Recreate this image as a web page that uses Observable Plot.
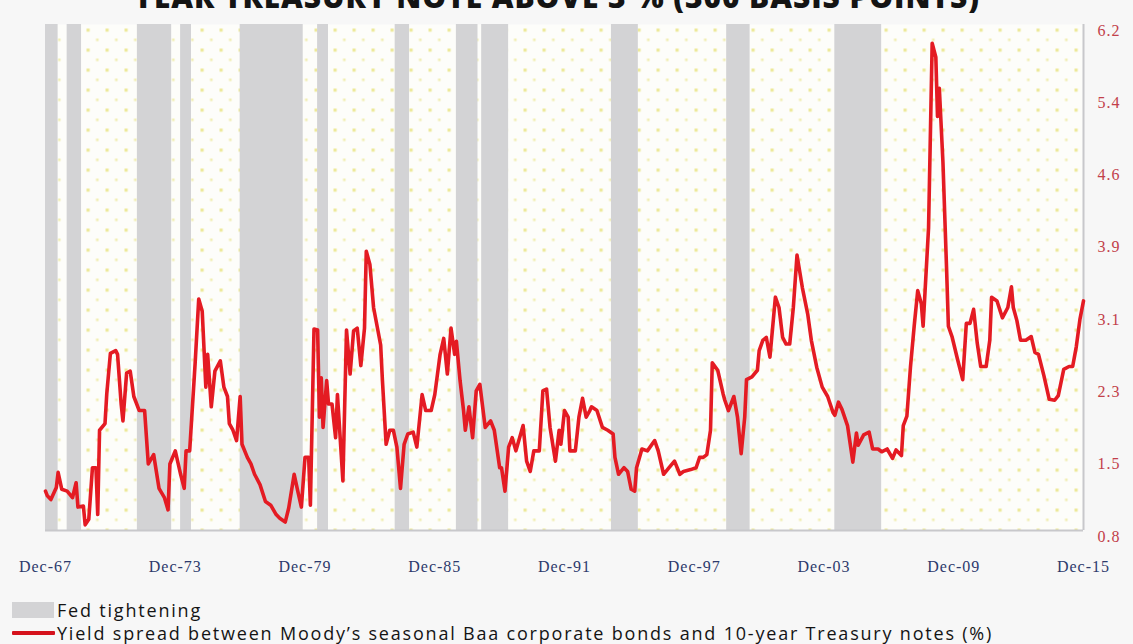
<!DOCTYPE html>
<html>
<head>
<meta charset="utf-8">
<script src="https://cdn.jsdelivr.net/npm/d3@7"></script>
<script src="https://cdn.jsdelivr.net/npm/@observablehq/plot@0.6"></script>
<style>
  html, body { margin: 0; padding: 0; background: #f7f7f7; }
  #wrap { position: relative; width: 1133px; height: 644px; overflow: hidden; }
  #title {
    position: absolute; top: -18px; left: -10px; width: 1133px;
    text-align: center; white-space: nowrap; letter-spacing: 0.9px;
    font: 800 30px/30px "Open Sans", sans-serif; color: #141414;
  }
  #chart { position: absolute; top: 0; left: 0; }
  #legend {
    position: absolute; left: 12px; top: 598px;
    font: 18px/20px "Open Sans", sans-serif; color: #141414; letter-spacing: 1.8px;
  }
  .item { display: flex; align-items: center; height: 23px; }
  .swatch-band { width: 42px; height: 16px; background: #d3d3d5; margin-right: 3px; }
  .swatch-line { width: 43px; height: 4px; background: #d5121c; border-radius: 1px; margin-right: 2px; }
  g[aria-label="x-axis tick label"] text { letter-spacing: 1px; }
  g[aria-label="y-axis tick label"] text { letter-spacing: 1px; }
</style>
</head>
<body>
<div id="wrap">
  <div id="chart"></div>
  <div id="title">YEAR TREASURY NOTE ABOVE 3 % (300 BASIS POINTS)</div>
  <div id="legend">
    <div class="item"><div class="swatch-band"></div>Fed tightening</div>
    <div class="item"><div class="swatch-line"></div>Yield spread between Moody’s seasonal Baa corporate bonds and 10-year Treasury notes (%)</div>
  </div>
</div>
<script>
// Periods of Fed tightening (first month, last month)
const tightening = [
  ["1967-12", "1968-07"], ["1968-12", "1969-08"], ["1972-03", "1973-10"],
  ["1974-03", "1974-09"], ["1976-12", "1979-11"], ["1980-07", "1981-01"],
  ["1984-02", "1984-10"], ["1986-12", "1987-12"], ["1988-02", "1989-05"],
  ["1994-02", "1995-05"], ["1999-06", "2000-07"], ["2004-06", "2006-08"]
];

// Baa corporate yield minus 10-year Treasury yield, percentage points
const spread = [
  ["1967-12", 1.22], ["1968-01", 1.17], ["1968-03", 1.13], ["1968-06", 1.26], ["1968-07", 1.42],
  ["1968-09", 1.24], ["1968-12", 1.22], ["1969-03", 1.15], ["1969-05", 1.31], ["1969-06", 1.05],
  ["1969-09", 1.06], ["1969-10", 0.86], ["1969-12", 0.92], ["1970-02", 1.47], ["1970-04", 1.47],
  ["1970-05", 0.97], ["1970-06", 1.87], ["1970-09", 1.94], ["1970-10", 2.26], ["1970-12", 2.69],
  ["1971-03", 2.72], ["1971-04", 2.68], ["1971-06", 2.15], ["1971-07", 1.97], ["1971-09", 2.48],
  ["1971-11", 2.50], ["1972-01", 2.23], ["1972-04", 2.08], ["1972-07", 2.08], ["1972-09", 1.51],
  ["1972-12", 1.61], ["1973-03", 1.25], ["1973-06", 1.15], ["1973-08", 1.02], ["1973-09", 1.51],
  ["1973-12", 1.65], ["1974-03", 1.40], ["1974-05", 1.25], ["1974-06", 1.65], ["1974-08", 1.65],
  ["1974-11", 2.58], ["1975-01", 3.27], ["1975-03", 3.14], ["1975-05", 2.33], ["1975-06", 2.68],
  ["1975-08", 2.12], ["1975-10", 2.50], ["1976-01", 2.61], ["1976-03", 2.33], ["1976-05", 2.23],
  ["1976-06", 1.94], ["1976-08", 1.87], ["1976-10", 1.76], ["1976-12", 2.23], ["1977-01", 1.72],
  ["1977-04", 1.58], ["1977-06", 1.51], ["1977-08", 1.40], ["1977-11", 1.29], ["1978-02", 1.11],
  ["1978-05", 1.07], ["1978-08", 0.97], ["1978-10", 0.93], ["1979-01", 0.89], ["1979-03", 1.04],
  ["1979-06", 1.40], ["1979-08", 1.22], ["1979-10", 1.05], ["1979-12", 1.58], ["1980-02", 1.58],
  ["1980-03", 1.07], ["1980-05", 2.95], ["1980-07", 2.94], ["1980-08", 2.01], ["1980-09", 2.43],
  ["1980-10", 1.90], ["1980-12", 2.40], ["1981-01", 2.15], ["1981-03", 2.15], ["1981-05", 1.79],
  ["1981-06", 2.25], ["1981-09", 1.33], ["1981-11", 2.94], ["1982-01", 2.47], ["1982-03", 2.93],
  ["1982-05", 2.96], ["1982-07", 2.56], ["1982-09", 2.96], ["1982-10", 3.78], ["1982-12", 3.64],
  ["1983-02", 3.18], ["1983-06", 2.78], ["1983-07", 2.40], ["1983-09", 1.72], ["1983-11", 1.87],
  ["1984-01", 1.87], ["1984-03", 1.69], ["1984-05", 1.25], ["1984-07", 1.72], ["1984-09", 1.83],
  ["1984-12", 1.85], ["1985-02", 1.69], ["1985-05", 2.25], ["1985-07", 2.08], ["1985-10", 2.08],
  ["1985-12", 2.25], ["1986-03", 2.68], ["1986-05", 2.85], ["1986-07", 2.47], ["1986-09", 2.96],
  ["1986-11", 2.68], ["1986-12", 2.82], ["1987-02", 2.40], ["1987-04", 2.08], ["1987-05", 1.87],
  ["1987-07", 2.12], ["1987-09", 1.79], ["1987-11", 2.29], ["1988-01", 2.36], ["1988-04", 1.90],
  ["1988-07", 1.97], ["1988-09", 1.87], ["1988-12", 1.47], ["1989-01", 1.47], ["1989-03", 1.22],
  ["1989-05", 1.69], ["1989-07", 1.79], ["1989-09", 1.65], ["1990-01", 1.92], ["1990-03", 1.54],
  ["1990-05", 1.43], ["1990-07", 1.65], ["1990-10", 1.65], ["1990-12", 2.29], ["1991-02", 2.31],
  ["1991-04", 1.90], ["1991-07", 1.54], ["1991-09", 1.87], ["1991-10", 1.72], ["1991-12", 2.08],
  ["1992-02", 2.01], ["1992-03", 1.65], ["1992-06", 1.65], ["1992-08", 2.01], ["1992-10", 2.21],
  ["1992-12", 2.01], ["1993-02", 2.08], ["1993-03", 2.12], ["1993-06", 2.08], ["1993-09", 1.90],
  ["1993-12", 1.87], ["1994-03", 1.83], ["1994-04", 1.58], ["1994-06", 1.40], ["1994-09", 1.47],
  ["1994-11", 1.43], ["1995-01", 1.24], ["1995-03", 1.22], ["1995-04", 1.47], ["1995-07", 1.67],
  ["1995-10", 1.65], ["1996-02", 1.76], ["1996-04", 1.65], ["1996-07", 1.40], ["1996-10", 1.47],
  ["1997-01", 1.54], ["1997-04", 1.40], ["1997-06", 1.43], ["1997-10", 1.45], ["1998-01", 1.47],
  ["1998-03", 1.58], ["1998-05", 1.58], ["1998-07", 1.61], ["1998-09", 1.87], ["1998-10", 2.59],
  ["1999-01", 2.51], ["1999-04", 2.26], ["1999-05", 2.19], ["1999-07", 2.08], ["1999-10", 2.23],
  ["1999-12", 2.01], ["2000-02", 1.62], ["2000-04", 2.01], ["2000-05", 2.41], ["2000-08", 2.44],
  ["2000-11", 2.51], ["2000-12", 2.72], ["2001-02", 2.83], ["2001-04", 2.86], ["2001-06", 2.65],
  ["2001-09", 3.29], ["2001-11", 3.18], ["2002-01", 2.86], ["2002-03", 2.79], ["2002-05", 2.79],
  ["2002-07", 3.18], ["2002-09", 3.74], ["2002-12", 3.39], ["2003-03", 3.11], ["2003-05", 2.83],
  ["2003-08", 2.54], ["2003-11", 2.33], ["2004-02", 2.23], ["2004-05", 2.06], ["2004-06", 2.03],
  ["2004-08", 2.17], ["2004-10", 2.09], ["2005-01", 1.92], ["2005-04", 1.53], ["2005-06", 1.84],
  ["2005-07", 1.71], ["2005-10", 1.82], ["2006-01", 1.85], ["2006-03", 1.67], ["2006-06", 1.67],
  ["2006-08", 1.64], ["2006-11", 1.67], ["2007-02", 1.57], ["2007-04", 1.66], ["2007-07", 1.60],
  ["2007-08", 1.92], ["2007-10", 2.02], ["2007-12", 2.55], ["2008-02", 2.98], ["2008-04", 3.36],
  ["2008-06", 3.22], ["2008-07", 2.98], ["2008-08", 3.33], ["2008-10", 4.03], ["2008-12", 6.00],
  ["2009-02", 5.85], ["2009-03", 5.22], ["2009-04", 5.52], ["2009-06", 4.73], ["2009-08", 3.60],
  ["2009-09", 2.98], ["2009-11", 2.87], ["2010-02", 2.63], ["2010-05", 2.41], ["2010-07", 3.01],
  ["2010-09", 3.01], ["2010-11", 3.16], ["2011-01", 2.80], ["2011-03", 2.55], ["2011-06", 2.55],
  ["2011-08", 2.83], ["2011-09", 3.29], ["2011-12", 3.25], ["2012-03", 3.07], ["2012-06", 3.18],
  ["2012-08", 3.40], ["2012-09", 3.18], ["2012-11", 3.04], ["2013-01", 2.83], ["2013-04", 2.83],
  ["2013-07", 2.87], ["2013-09", 2.70], ["2013-11", 2.68], ["2014-02", 2.45], ["2014-05", 2.20],
  ["2014-08", 2.19], ["2014-10", 2.24], ["2015-01", 2.52], ["2015-04", 2.55], ["2015-06", 2.55],
  ["2015-08", 2.76], ["2015-10", 3.05], ["2015-12", 3.25]
];

// Axis labels
const xTickMonths = ["1967-12", "1973-12", "1979-12", "1985-12", "1991-12", "1997-12", "2003-12", "2009-12", "2015-12"];
const xTickLabels = ["Dec-67", "Dec-73", "Dec-79", "Dec-85", "Dec-91", "Dec-97", "Dec-03", "Dec-09", "Dec-15"];
const yTickLabels = ["0.8", "1.5", "2.3", "3.1", "3.9", "4.6", "5.4", "6.2"];

const parseMonth = d3.utcParse("%Y-%m");
const yMin = 0.8, yMax = 6.2;

const spreadData = spread.map(([m, v]) => ({date: parseMonth(m), value: v}));
const bandData = tightening.map(([a, b]) => ({start: parseMonth(a), end: parseMonth(b)}));
const xTicks = xTickMonths.map(parseMonth);
const xStart = xTicks[0], xEnd = xTicks[xTicks.length - 1];
// right-hand labels sit on evenly spaced steps of the value range
const yStep = (yMax - yMin) / (yTickLabels.length - 1);
const yTicks = yTickLabels.map((_, i) => yMin + i * yStep);

const chart = Plot.plot({
  width: 1133,
  height: 590,
  marginLeft: 45,
  marginRight: 50,
  marginTop: 24,
  marginBottom: 60,
  style: {background: "transparent", overflow: "visible"},
  x: {type: "utc", domain: [xStart, xEnd]},
  y: {domain: [yMin, yMax]},
  marks: [
    Plot.frame({fill: "url(#dotgrid)", stroke: null}),
    Plot.rect(bandData, {x1: "start", x2: "end", fill: "#d3d3d5"}),
    Plot.ruleY([yMin], {stroke: "#c8c8cb", strokeWidth: 2}),
    Plot.ruleX([xEnd], {stroke: "#c8c8cb", strokeWidth: 2}),
    Plot.line(spreadData, {
      x: "date", y: "value",
      stroke: "#e41b23", strokeWidth: 3.6, strokeLinejoin: "round", strokeLinecap: "round"
    }),
    Plot.axisX(xTicks, {
      anchor: "bottom", tickSize: 0, tickPadding: 30, label: null,
      tickFormat: (d) => xTickLabels[xTicks.findIndex((t) => +t === +d)],
      fontSize: 16, fontFamily: "Liberation Serif, serif", fill: "#2d3a6c"
    }),
    Plot.axisY(yTicks, {
      anchor: "right", tickSize: 0, tickPadding: 14, label: null,
      tickFormat: (d) => yTickLabels[Math.round((d - yMin) / yStep)],
      fontSize: 16, fontFamily: "Liberation Serif, serif", fill: "#c2404a", dy: 6
    })
  ]
});

// dotted fill pattern used behind the plot area
const svg = d3.select(chart);
const pattern = svg.insert("defs", ":first-child")
  .append("pattern")
  .attr("id", "dotgrid")
  .attr("patternUnits", "userSpaceOnUse")
  .attr("x", 45).attr("y", 24)
  .attr("width", 19).attr("height", 20);
pattern.append("rect").attr("width", 19).attr("height", 20).attr("fill", "#fdfdfa");
pattern.append("rect").attr("x", 3).attr("y", 4).attr("width", 3.2).attr("height", 3.2).attr("fill", "#ede99a");
pattern.append("rect").attr("x", 12.5).attr("y", 14).attr("width", 2.6).attr("height", 2.6).attr("fill", "#f1eeb2");

document.getElementById("chart").appendChild(chart);
</script>
</body>
</html>
